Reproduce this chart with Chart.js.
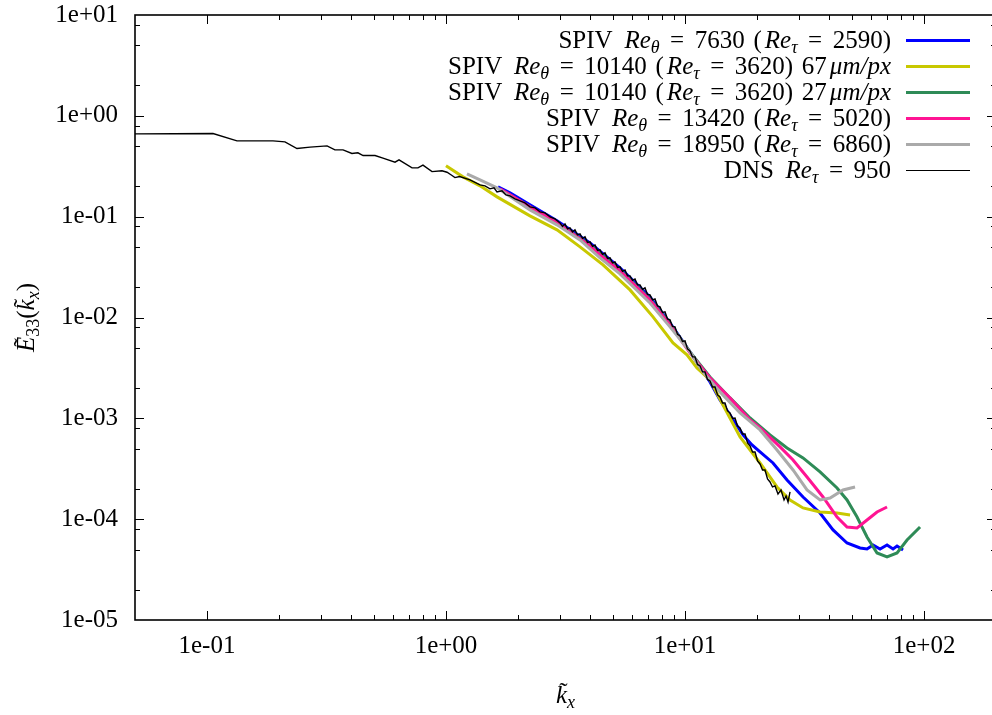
<!DOCTYPE html>
<html><head><meta charset="utf-8">
<script src="https://cdn.jsdelivr.net/npm/chart.js@4.4.0/dist/chart.umd.min.js"></script>
<style>html,body{margin:0;padding:0;background:#fff;overflow:hidden;width:992px;height:715px}canvas{display:block}</style>
</head><body><canvas id="c" width="1000" height="715"></canvas>
<script>
// ---- tick values / labels ----
const xTickValues = [0.1, 1, 10, 100];
const xTickLabels = ['1e-01', '1e+00', '1e+01', '1e+02'];
const yTickValues = [1e-5, 1e-4, 1e-3, 1e-2, 1e-1, 1, 10];
const yTickLabels = ['1e-05', '1e-04', '1e-03', '1e-02', '1e-01', '1e+00', '1e+01'];
const xMinorSteps = [2, 3, 4, 5, 6, 7, 8, 9];
const yMinorSteps = [2, 5, 8];
const xRange = [0.05, 200];
const yRange = [1e-5, 10];

// ---- series labels (markup: *italic*, _{subscript}) ----
const seriesLabels = [
  'SPIV *Re*_{θ} = 7630 (*Re*_{τ} = 2590)',
  'SPIV *Re*_{θ} = 10140 (*Re*_{τ} = 3620) 67*μm/px*',
  'SPIV *Re*_{θ} = 10140 (*Re*_{τ} = 3620) 27*μm/px*',
  'SPIV *Re*_{θ} = 13420 (*Re*_{τ} = 5020)',
  'SPIV *Re*_{θ} = 18950 (*Re*_{τ} = 6860)',
  'DNS *Re*_{τ} = 950'
];
const seriesColors = ['#0000ff', '#c8c800', '#2e8b57', '#ff1493', '#aaaaaa', '#000000'];

// ---- data: [k_x, E33] ----
const spiv7630 = [[1.651,0.1975],[1.853,0.1722],[2.246,0.1309],[2.914,0.09085],[4.005,0.05496],[5.346,0.03105],[7.138,0.01601],[8.654,0.008842],[10.49,0.004558],[11.56,0.003235],[12.72,0.002297],[14.01,0.001522],[15.43,0.001080],[17.49,0.0006844],[19.07,0.0005446],[20.60,0.0004642],[23.34,0.0003609],[26.72,0.0002448],[31.17,0.0001660],[36.72,0.0001152],[41.62,0.00007814],[47.62,0.00005806],[53.99,0.00005179],[57.74,0.00005061],[61.17,0.00005546],[65.45,0.00005061],[70.01,0.00005546],[74.19,0.00005061],[77.09,0.00005420],[79.35,0.00005179],[81.68,0.00004948]];
const spiv10140a = [[1.000,0.3191],[1.178,0.2482],[1.388,0.2021],[1.635,0.1572],[2.246,0.1018],[2.914,0.07396],[3.637,0.05016],[4.539,0.03325],[5.887,0.01878],[7.347,0.01014],[8.909,0.005597],[10.19,0.004256],[11.22,0.003162],[12.72,0.002404],[14.42,0.001358],[16.99,0.0006537],[20.60,0.0003609],[24.26,0.0002087],[27.50,0.0001551],[31.17,0.0001292],[36.72,0.0001179],[43.25,0.0001152],[49.03,0.0001101]];
const spiv10140b = [[1.766,0.1762],[2.246,0.1251],[2.914,0.08680],[4.005,0.05250],[5.346,0.02966],[7.138,0.01529],[8.654,0.008642],[10.49,0.004558],[12.72,0.002575],[15.43,0.001594],[18.71,0.001009],[22.68,0.0006844],[26.72,0.0005085],[31.17,0.0004046],[36.72,0.0002939],[43.25,0.0002040],[47.62,0.0001551],[52.45,0.0001051],[57.74,0.00006660],[63.58,0.00004620],[70.01,0.00004217],[77.09,0.00004620],[84.90,0.00006218],[96.23,0.00008370]];
const spiv13420 = [[1.682,0.1887],[1.853,0.1645],[2.246,0.1251],[2.914,0.08680],[4.005,0.05132],[4.409,0.04178],[5.346,0.02900],[7.138,0.01495],[8.654,0.008447],[10.49,0.004455],[12.72,0.002517],[15.43,0.001594],[18.71,0.0009641],[20.60,0.0008033],[24.98,0.0005204],[28.31,0.0003866],[32.39,0.0002623],[37.79,0.0001660],[43.25,0.0001051],[47.62,0.00008370],[52.45,0.00008179],[57.74,0.00009819],[63.58,0.0001179],[70.01,0.0001321]];
const spiv18950 = [[1.224,0.2658],[1.388,0.2317],[1.635,0.1931],[2.246,0.1168],[2.914,0.08293],[3.637,0.05886],[4.409,0.03902],[5.346,0.02707],[7.138,0.01395],[8.654,0.008068],[10.49,0.004558],[11.89,0.002886],[14.01,0.001827],[16.99,0.001131],[20.60,0.0007672],[24.26,0.0004859],[28.31,0.0003077],[32.39,0.0001949],[36.72,0.0001551],[40.44,0.0001623],[45.82,0.0001949],[51.44,0.0002087]];
const dns950 = [[0.045,0.662],[0.106,0.668],[0.1335,0.565],[0.189,0.565],[0.212,0.552],[0.238,0.474],[0.270,0.489],[0.318,0.504],[0.343,0.460],[0.371,0.460],[0.404,0.423],[0.428,0.430],[0.450,0.404],[0.505,0.404],[0.545,0.380],[0.612,0.347],[0.636,0.366],[0.721,0.305],[0.763,0.305],[0.801,0.324],[0.874,0.280],[0.962,0.285],[1.01,0.276],[1.06,0.256],[1.09,0.244],[1.14,0.250],[1.26,0.232],[1.388,0.2067],
 [1.456,0.2021],[1.528,0.1887],[1.588,0.1931],[1.635,0.1762],[1.715,0.1803],[1.782,0.1645],[1.853,0.1608],[1.944,0.1502],[2.040,0.1434],[2.140,0.1370],[2.246,0.1251],[2.357,0.1223],[2.474,0.1116],[2.596,0.1091],[2.724,0.09954],[2.858,0.09510],
 [2.999,0.08680],[3.072,0.08012],[3.147,0.08484],[3.224,0.07568],[3.302,0.07743],[3.383,0.07066],[3.465,0.07396],[3.549,0.06598],[3.637,0.06753],[3.726,0.06090],[3.816,0.06304],[3.909,0.05559],[4.005,0.05623],[4.103,0.05074],[4.202,0.05250],[4.304,0.04632],[4.409,0.04684],[4.516,0.04227],[4.627,0.04375],[4.740,0.03858],[4.856,0.03902],[4.974,0.03480],[5.095,0.03561],[5.219,0.03141],[5.346,0.03177],[5.476,0.02867],[5.610,0.02966],[5.747,0.02586],[5.887,0.02586],[6.031,0.02333],[6.178,0.02414],[6.329,0.02105],[6.482,0.02105],[6.640,0.01900],[6.802,0.01966],[6.968,0.01695],[7.138,0.01676],[7.312,0.01495],[7.490,0.01529],[7.673,0.01303],[7.859,0.01274],[8.051,0.01123],[8.247,0.01136],[8.448,0.009685],[8.654,0.009467],[8.865,0.008161],[9.082,0.008068],[9.303,0.006798],[9.530,0.006570],[9.762,0.005791],[10.00,0.005858],[10.24,0.004881],[10.49,0.004664],[10.75,0.004065],[11.01,0.004065],[11.28,0.003424],[11.56,0.003310],[11.84,0.002886],[12.12,0.002886],[12.42,0.002431],[12.72,0.002350],[13.03,0.002048],[13.35,0.002048],[13.68,0.001706],[14.01,0.001630],[14.35,0.001421],[14.70,0.001421],[15.06,0.001184],[15.43,0.001131],[15.81,0.0009977],[16.19,0.001009],[16.58,0.0008408],[16.99,0.0008033],[17.40,0.0007003],[17.83,0.0007003],[18.26,0.0005702],[18.71,0.0005324],[19.17,0.0004642],[19.63,0.0004642],[20.11,0.0003779],[20.60,0.0003528],[21.10,0.0003077],[21.61,0.0003077],[22.14,0.0002505],[22.68,0.0002339],[23.23,0.0002087],[23.80,0.0002135],[24.49,0.0001778],[25.22,0.0001949],[25.96,0.0001551],[26.47,0.0001699],[26.98,0.0001481],[27.50,0.0001862]];
const seriesData = [spiv7630, spiv10140a, spiv10140b, spiv13420, spiv18950, dns950];

// axis titles (markup: ~{X} italic with tilde accent)
const yTitle = '~{E}_{33}(~{k}_{x})';
const xTitle = '~{k}_{x}';

// ---- rich text rendering ----
const FONT = '"Liberation Serif", "Times New Roman", serif';
const FS = 25, SUBFS = 18, EQPAD = 0.42, ITBONUS = 0.12;
function parse(m) {
  const out = [];
  m.split(/(\*[^*]+\*|_\{[^}]+\}|~\{[^}]+\})/).forEach(p => {
    if (!p) return;
    if (p[0] === '*') out.push({t: p.slice(1, -1), s: 'i', padL: ITBONUS * FS});
    else if (p[0] === '_') { const t = p.slice(2, -1); out.push({t, s: /^[0-9]+$/.test(t) ? 'sub' : 'subi'}); }
    else if (p[0] === '~') out.push({t: p.slice(2, -1), s: 'i', acc: true});
    else out.push({t: p, s: 'r'});
  });
  return out;
}
function fontFor(s) {
  if (s === 'i') return 'italic ' + FS + 'px ' + FONT;
  if (s === 'sub') return SUBFS + 'px ' + FONT;
  if (s === 'subi') return 'italic ' + SUBFS + 'px ' + FONT;
  return FS + 'px ' + FONT;
}
function pieces(segs, ctx) {
  const res = [];
  segs.forEach(g => {
    if (g.s === 'r' && g.t.includes(' = ')) {
      const parts = g.t.split(' = ');
      parts.forEach((p, i) => {
        if (p) res.push({t: p, s: 'r'});
        if (i < parts.length - 1) res.push({t: '=', s: 'r', padL: EQPAD * FS, padR: EQPAD * FS});
      });
    } else res.push(g);
  });
  res.forEach(p => {
    ctx.font = fontFor(p.s);
    let w = ctx.measureText(p.t).width;
    if (p.s === 'r') w += (p.t.match(/ /g) || []).length * 0.1 * FS;
    p.w = w + (p.padL || 0) + (p.padR || 0);
  });
  return res;
}
function drawRich(ctx, markup, x, y, align) {
  ctx.save();
  const ps = pieces(parse(markup), ctx);
  const total = ps.reduce((a, p) => a + p.w, 0);
  let cx = align === 'right' ? x - total : align === 'center' ? x - total / 2 : x;
  ctx.textBaseline = 'alphabetic';
  ctx.textAlign = 'left';
  ctx.fillStyle = '#000';
  ps.forEach(p => {
    ctx.font = fontFor(p.s);
    const dy = (p.s === 'sub' || p.s === 'subi') ? 5 : 0;
    const tx = cx + (p.padL || 0);
    if (p.s === 'r' && p.t.includes(' ')) {
      let sx = tx;
      p.t.split(' ').forEach((w, j, arr) => {
        ctx.fillText(w, sx, y + dy);
        sx += ctx.measureText(w).width;
        if (j < arr.length - 1) sx += ctx.measureText(' ').width + 0.1 * FS;
      });
    } else {
      ctx.fillText(p.t, tx, y + dy);
    }
    if (p.acc) {
      const bw = ctx.measureText(p.t).width;
      ctx.font = FS + 'px ' + FONT;
      const tw = ctx.measureText('\u02DC').width;
      ctx.fillText('\u02DC', tx + bw / 2 - tw / 2 + 2, y - 3);
    }
    cx += p.w;
  });
  ctx.restore();
}

// ---- plugins ----
const framePlugin = {
  id: 'frame',
  afterDatasetsDraw(chart) {
    const {ctx, chartArea: a, scales: {x, y}} = chart;
    ctx.save();
    ctx.strokeStyle = '#000';
    ctx.lineWidth = 1;
    const major = 9, minor = 5;
    ctx.beginPath();
    const xt = [];
    xTickValues.forEach(d => {
      xt.push([d, major]);
      xMinorSteps.forEach(m => xt.push([m * d, minor]));
    });
    xt.forEach(([v, l]) => {
      if (v < xRange[0] || v >= xRange[1]) return;
      const px = Math.round(x.getPixelForValue(v)) + 0.5;
      ctx.moveTo(px, a.bottom); ctx.lineTo(px, a.bottom - l);
      ctx.moveTo(px, a.top); ctx.lineTo(px, a.top + l);
    });
    const yt = [];
    yTickValues.forEach(d => {
      yt.push([d, major]);
      yMinorSteps.forEach(m => yt.push([m * d, minor]));
    });
    yt.forEach(([v, l]) => {
      if (v <= yRange[0] || v >= yRange[1]) return;
      const py = Math.round(y.getPixelForValue(v)) + 0.5;
      ctx.moveTo(a.left, py); ctx.lineTo(a.left + l, py);
      ctx.moveTo(a.right, py); ctx.lineTo(a.right - l, py);
    });
    ctx.stroke();
    ctx.lineWidth = 1.6;
    ctx.strokeRect(a.left, a.top, a.right - a.left, a.bottom - a.top);
    ctx.restore();
  },
  afterDraw(chart) {
    const {ctx, chartArea: a} = chart;
    const textRight = 891, lineL = 906, lineR = 970, row0 = 40, rowH = 26;
    seriesLabels.forEach((lab, i) => {
      const ry = row0 + i * rowH;
      drawRich(ctx, lab, textRight, ry + 8, 'right');
      ctx.save();
      ctx.strokeStyle = seriesColors[i];
      ctx.lineWidth = i === 5 ? 1 : 3;
      ctx.beginPath(); ctx.moveTo(lineL, ry + 0.5); ctx.lineTo(lineR, ry + 0.5); ctx.stroke();
      ctx.restore();
    });
    drawRich(ctx, xTitle, (a.left + a.right) / 2, 703, 'center');
    ctx.save();
    ctx.translate(34, (a.top + a.bottom) / 2);
    ctx.rotate(-Math.PI / 2);
    drawRich(ctx, yTitle, 0, 0, 'center');
    ctx.restore();
  }
};

const tickFont = {family: FONT, size: FS};
new Chart(document.getElementById('c'), {
  type: 'scatter',
  data: {
    datasets: seriesData.map((d, i) => ({
      label: seriesLabels[i],
      data: d.map(p => ({x: p[0], y: p[1]})),
      showLine: true,
      borderColor: seriesColors[i],
      backgroundColor: seriesColors[i],
      borderWidth: i === 5 ? 1.4 : 3,
      pointRadius: 0,
      tension: 0,
      fill: false,
      order: 6 - i
    }))
  },
  options: {
    responsive: false,
    devicePixelRatio: 1,
    animation: false,
    layout: {padding: {left: 0, right: 4, top: 15, bottom: 0}},
    plugins: {legend: {display: false}, tooltip: {enabled: false}},
    scales: {
      x: {
        type: 'logarithmic', min: xRange[0], max: xRange[1],
        grid: {display: false, drawTicks: false},
        border: {display: false},
        afterFit(s) { s.height = 95; s.paddingLeft = 0; s.paddingRight = 0; },
        afterBuildTicks(s) { s.ticks = xTickValues.map(v => ({value: v})); },
        ticks: {font: tickFont, color: '#000', padding: 11, autoSkip: false, maxRotation: 0,
          callback: (v, i) => xTickLabels[i]}
      },
      y: {
        type: 'logarithmic', min: yRange[0], max: yRange[1],
        grid: {display: false, drawTicks: false},
        border: {display: false},
        afterFit(s) { s.width = 135; s.paddingTop = 0; s.paddingBottom = 0; },
        afterBuildTicks(s) { s.ticks = yTickValues.map(v => ({value: v})); },
        ticks: {font: tickFont, color: '#000', padding: 17, autoSkip: false,
          callback: (v, i) => yTickLabels[i]}
      }
    }
  },
  plugins: [framePlugin]
});
</script>
</body></html>
